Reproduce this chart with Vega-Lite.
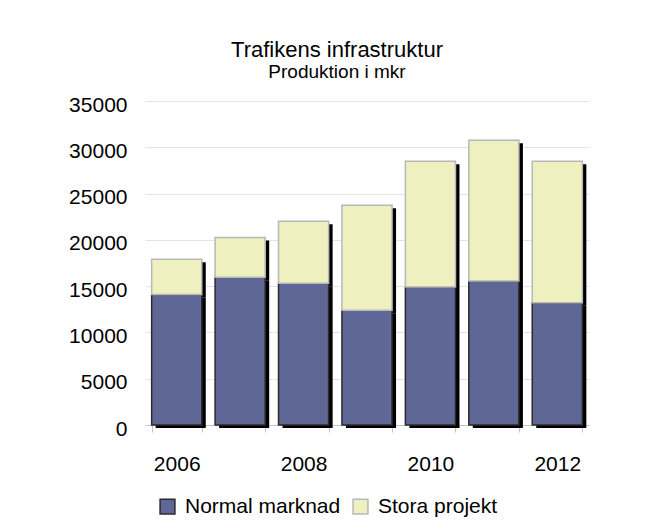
{
  "$schema": "https://vega.github.io/schema/vega-lite/v6.json",
  "width": 444,
  "height": 324,
  "autosize": {"type": "none"},
  "padding": {"left": 145, "top": 101, "right": 63, "bottom": 107},
  "background": "white",
  "title": {
    "text": "Trafikens infrastruktur",
    "subtitle": "Produktion i mkr",
    "anchor": "middle",
    "dx": -30,
    "font": "Liberation Sans",
    "fontSize": 22,
    "fontWeight": "normal",
    "color": "black",
    "subtitleFont": "Liberation Sans",
    "subtitleFontSize": 19,
    "subtitleColor": "black",
    "subtitlePadding": 1,
    "offset": 11
  },
  "data": {
    "values": [
      {"year": "2006", "series": "Normal marknad", "value": 14100},
      {"year": "2006", "series": "Stora projekt", "value": 3800},
      {"year": "2007", "series": "Normal marknad", "value": 15950},
      {"year": "2007", "series": "Stora projekt", "value": 4300},
      {"year": "2008", "series": "Normal marknad", "value": 15300},
      {"year": "2008", "series": "Stora projekt", "value": 6700},
      {"year": "2009", "series": "Normal marknad", "value": 12400},
      {"year": "2009", "series": "Stora projekt", "value": 11350},
      {"year": "2010", "series": "Normal marknad", "value": 14900},
      {"year": "2010", "series": "Stora projekt", "value": 13600},
      {"year": "2011", "series": "Normal marknad", "value": 15550},
      {"year": "2011", "series": "Stora projekt", "value": 15200},
      {"year": "2012", "series": "Normal marknad", "value": 13200},
      {"year": "2012", "series": "Stora projekt", "value": 15300}
    ]
  },
  "encoding": {
    "x": {
      "field": "year",
      "type": "ordinal",
      "scale": {"paddingInner": 0.21, "paddingOuter": 0.105},
      "axis": {
        "title": null,
        "tickBand": "extent",
        "labelAngle": 0,
        "labelExpr": "indexof(['2006','2008','2010','2012'], datum.label) >= 0 ? datum.label : ''",
        "labelFont": "Liberation Sans",
        "labelFontSize": 21,
        "labelColor": "black",
        "labelPadding": 21,
        "labelBaseline": "top",
        "tickSize": 7,
        "tickColor": "#C4C4C4",
        "domainColor": "#C4C4C4",
        "grid": false
      }
    },
    "y": {
      "field": "value",
      "type": "quantitative",
      "stack": "zero",
      "scale": {"domain": [0, 35000], "nice": false},
      "axis": {
        "title": null,
        "values": [0, 5000, 10000, 15000, 20000, 25000, 30000, 35000],
        "format": "d",
        "domain": false,
        "ticks": false,
        "grid": true,
        "gridColor": "#E4E4E4",
        "gridWidth": 1,
        "labelFont": "Liberation Sans",
        "labelFontSize": 21,
        "labelColor": "black",
        "labelPadding": 18,
        "labelOffset": 4
      }
    },
    "order": {"field": "series", "sort": "ascending"}
  },
  "layer": [
    {
      "mark": {"type": "bar", "color": "black", "xOffset": 4, "yOffset": 3},
      "encoding": {"detail": {"field": "series"}}
    },
    {
      "mark": {"type": "bar", "strokeWidth": 1.5},
      "encoding": {
        "color": {
          "field": "series",
          "type": "nominal",
          "scale": {"domain": ["Normal marknad", "Stora projekt"], "range": ["#5F6796", "#EEF0C0"]},
          "legend": {
            "title": null,
            "orient": "none",
            "direction": "horizontal",
            "legendX": 12,
            "legendY": 395,
            "symbolType": "square",
            "symbolSize": 220,
            "symbolStrokeWidth": 1.5,
            "labelFont": "Liberation Sans",
            "labelFontSize": 21,
            "labelColor": "black",
            "labelOffset": 7,
            "columnPadding": 9
          }
        },
        "stroke": {
          "field": "series",
          "type": "nominal",
          "scale": {"domain": ["Normal marknad", "Stora projekt"], "range": ["#2B2B2B", "#B8B8B8"]},
          "legend": null
        }
      }
    }
  ],
  "config": {"view": {"stroke": null}}
}
